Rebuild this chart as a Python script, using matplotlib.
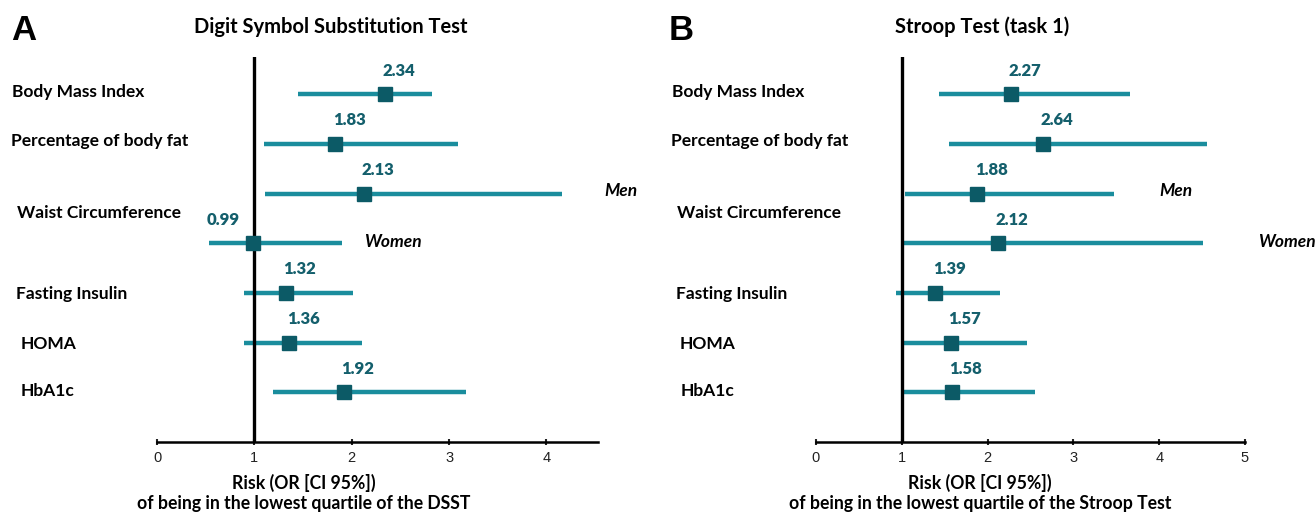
import matplotlib
matplotlib.use("Agg")
import matplotlib.pyplot as plt
from matplotlib.transforms import blended_transform_factory
from matplotlib import font_manager

# ---------------- data ----------------
categories = ["Body Mass Index", "Percentage of body fat", "Men", "Women",
              "Fasting Insulin", "HOMA", "HbA1c"]

dsst_or = [2.34, 1.83, 2.13, 0.99, 1.32, 1.36, 1.92]
dsst_lo = [1.45, 1.10, 1.11, 0.53, 0.89, 0.89, 1.19]
dsst_hi = [2.82, 3.09, 4.16, 1.90, 2.01, 2.11, 3.17]

stroop_or = [2.27, 2.64, 1.88, 2.12, 1.39, 1.57, 1.58]
stroop_lo = [1.43, 1.55, 1.04, 0.99, 0.93, 1.02, 0.99]
stroop_hi = [3.66, 4.56, 3.47, 4.51, 2.15, 2.46, 2.55]

dsst_ticks = [0, 1, 2, 3, 4]
stroop_ticks = [0, 1, 2, 3, 4, 5]

# ---------------- style ----------------
avail = {f.name for f in font_manager.fontManager.ttflist}
MAIN = "Lato" if "Lato" in avail else "DejaVu Sans"
TICKF = "Liberation Sans Narrow" if "Liberation Sans Narrow" in avail else "Liberation Sans"

LINE_C = "#1a8d9d"
MARK_C = "#0c5a66"
VAL_C = "#145f6c"

W, H = 1316, 515
fig = plt.figure(figsize=(W / 100, H / 100), dpi=100)


def px_x(x):
    return x / W


def px_y(y):
    return 1 - y / H


def panel(left_px, right_px, xmax, ticks, ors, los, his, title, title_x,
          letter, letter_x, label_x, men_x, women_x, xlab_x, xlab2):
    ax = fig.add_axes([px_x(left_px), px_y(442), px_x(right_px - left_px), (442 - 57) / H])
    n = len(ors)
    ys = [n - i for i in range(n)]  # top to bottom
    for y, o, lo, hi in zip(ys, ors, los, his):
        ax.plot([lo, hi], [y, y], color=LINE_C, lw=3.2, solid_capstyle="butt", zorder=2)
        ax.plot([o], [y], marker="s", ms=10.5, color=MARK_C, zorder=4)
        dx = 10 if o >= 1 else -22
        ax.annotate(f"{o:.2f}", (o, y), xytext=(dx, 17), textcoords="offset points",
                    ha="center", va="center", fontsize=12, fontweight="heavy",
                    color=VAL_C, family=MAIN)
    ax.axvline(1, color="black", lw=2.4, zorder=3)
    ax.set_xlim(0, xmax)
    ax.set_ylim(0, 7.75)
    for s in ["top", "right", "left"]:
        ax.spines[s].set_visible(False)
    ax.spines["bottom"].set_linewidth(1.8)
    ax.set_yticks([])
    ax.set_xticks(ticks)
    ax.tick_params(axis="x", direction="inout", length=5, width=1.5, pad=4,
                   labelsize=10.5, colors="#222222")
    for t in ax.get_xticklabels():
        t.set_family(TICKF)

    tr = blended_transform_factory(fig.transFigure, ax.transData)
    lab_rows = [("Body Mass Index", 7.05, label_x[0]),
                ("Percentage of body fat", 6.05, label_x[1]),
                ("Waist Circumference", 4.6, label_x[2]),
                ("Fasting Insulin", 2.97, label_x[3]),
                ("HOMA", 1.98, label_x[4]),
                ("HbA1c", 1.03, label_x[5])]
    for txt, y, xp in lab_rows:
        fig.text(px_x(xp), y, txt, transform=tr, ha="left", va="center",
                 fontsize=12.5, fontweight="bold", family=MAIN, color="black")
    fig.text(px_x(men_x), 5.05, "Men", transform=tr, ha="left", va="center",
             fontsize=12.5, fontweight="bold", style="italic", family=MAIN)
    fig.text(px_x(women_x), 4.03, "Women", transform=tr, ha="left", va="center",
             fontsize=12.5, fontweight="bold", style="italic", family=MAIN)

    fig.text(px_x(title_x), px_y(27), title, ha="center", va="center",
             fontsize=14.5, fontweight="bold", family=MAIN)
    fig.text(px_x(letter_x), px_y(30), letter, ha="left", va="center",
             fontsize=25, fontweight="bold", family="Liberation Sans")
    fig.text(px_x(xlab_x), px_y(483), "Risk (OR [CI 95%])", ha="center", va="center",
             fontsize=12.7, fontweight="bold", family=MAIN)
    fig.text(px_x(xlab_x), px_y(504), xlab2, ha="center", va="center",
             fontsize=12.7, fontweight="bold", family=MAIN)
    return ax


panel(157, 598, 4.53, dsst_ticks, dsst_or, dsst_lo, dsst_hi,
      "Digit Symbol Substitution Test", 331, "A", 11,
      [12, 11, 17, 16, 21, 21], 604, 364, 304,
      "of being in the lowest quartile of the DSST")
panel(816, 1245, 5, stroop_ticks, stroop_or, stroop_lo, stroop_hi,
      "Stroop Test (task 1)", 982, "B", 669,
      [672, 671, 677, 676, 680, 681], 1159, 1258, 980,
      "of being in the lowest quartile of the Stroop Test")

fig.savefig("out.png", dpi=100)
